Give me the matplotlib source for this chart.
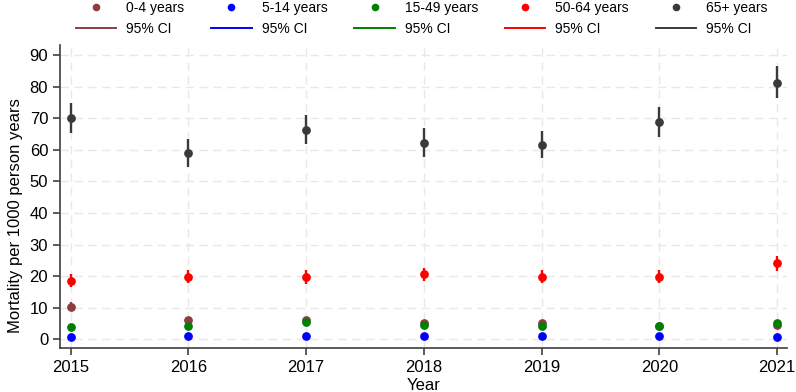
import matplotlib
matplotlib.use("Agg")
import matplotlib.pyplot as plt
from matplotlib.lines import Line2D

plt.rcParams['font.family'] = ['Liberation Sans', 'DejaVu Sans']

years = [2015, 2016, 2017, 2018, 2019, 2020, 2021]
groups = ["0-4 years", "5-14 years", "15-49 years", "50-64 years", "65+ years"]
colors = ["#8f3b3f", "#0000ff", "#008000", "#ff0000", "#3a3a3a"]

est_0_4 = [10.2, 6.2, 6.2, 5.1, 5.2, 4.1, 4.4]
lo_0_4 = [8.9, 5.4, 5.4, 4.4, 4.5, 3.5, 3.7]
hi_0_4 = [11.8, 7.1, 7.1, 5.9, 6.0, 4.8, 5.1]

est_5_14 = [0.75, 0.95, 1.05, 0.85, 0.95, 1.15, 0.75]
lo_5_14 = [0.55, 0.75, 0.85, 0.65, 0.75, 0.9, 0.55]
hi_5_14 = [0.95, 1.2, 1.3, 1.1, 1.2, 1.4, 0.95]

est_15_49 = [3.8, 4.2, 5.3, 4.5, 4.3, 4.3, 5.0]
lo_15_49 = [3.4, 3.8, 4.8, 4.1, 3.9, 3.9, 4.5]
hi_15_49 = [4.2, 4.6, 5.8, 4.9, 4.7, 4.7, 5.5]

est_50_64 = [18.4, 19.8, 19.7, 20.5, 19.7, 19.8, 24.0]
lo_50_64 = [16.6, 17.8, 17.6, 18.5, 17.7, 17.7, 21.7]
hi_50_64 = [20.5, 21.9, 21.8, 22.5, 21.8, 21.9, 26.3]

est_65 = [70.0, 59.0, 66.4, 62.2, 61.6, 68.8, 81.3]
lo_65 = [65.3, 54.7, 61.9, 57.8, 57.3, 64.2, 76.5]
hi_65 = [75.0, 63.5, 71.2, 66.8, 66.1, 73.6, 86.7]

series = [
    (est_0_4, lo_0_4, hi_0_4),
    (est_5_14, lo_5_14, hi_5_14),
    (est_15_49, lo_15_49, hi_15_49),
    (est_50_64, lo_50_64, hi_50_64),
    (est_65, lo_65, hi_65),
]

fig = plt.figure(figsize=(7.96, 3.92), dpi=100)
ax = fig.add_axes([0.0754, 0.1122, 0.9133, 0.7728])

for (est, lo, hi), c in zip(series, colors):
    ax.vlines(years, lo, hi, color=c, lw=1.7, zorder=3)
    ax.plot(years, est, 'o', color=c, ms=6.3, zorder=4, markeredgewidth=0)

ax.set_xlim(2014.91, 2021.085)
ax.set_ylim(-2.8, 93.2)
ax.set_xticks(years)
ax.set_yticks(range(0, 91, 10))
ax.grid(True, color='#e8e8e8', linestyle=(0, (6, 4)), lw=1.0, zorder=0)
ax.set_axisbelow(True)
for s in ['top', 'right']:
    ax.spines[s].set_visible(False)
for s in ['left', 'bottom']:
    ax.spines[s].set_color('#404040')
    ax.spines[s].set_linewidth(1.2)
ax.tick_params(axis='both', labelsize=12, color='#404040', length=5, width=1.2, direction='out')
ax.set_ylabel("Mortality per 1000 person years", fontsize=12, labelpad=4)
ax.yaxis.set_label_coords(-0.051, 0.436)
ax.set_xlabel("Year", fontsize=12, labelpad=2)

handles = []
labels = []
for g, c in zip(groups, colors):
    handles.append(Line2D([], [], marker='o', ls='none', color=c, ms=5.5, markeredgewidth=0))
    labels.append(g)
    handles.append(Line2D([], [], color=c, lw=1.4))
    labels.append("95% CI")

fig.legend(handles, labels, ncol=5, loc='upper center', bbox_to_anchor=(0.53, 1.03),
           frameon=False, fontsize=10, handlelength=2.9, handletextpad=0.72,
           columnspacing=1.95, labelspacing=0.5)

fig.savefig("out.png", dpi=100)
